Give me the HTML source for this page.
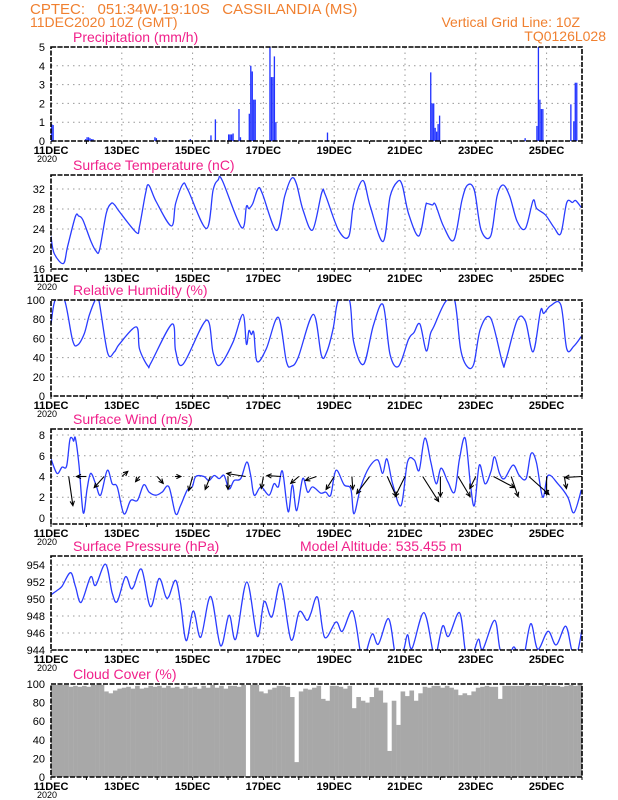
<!DOCTYPE html>
<html><head><meta charset="utf-8"><style>
body{margin:0;background:#fff;width:618px;height:800px;overflow:hidden}
svg{display:block;font-family:"Liberation Sans",sans-serif}
</style></head><body>
<svg id="chart" width="618" height="800" viewBox="0 0 618 800" xmlns="http://www.w3.org/2000/svg">
<text x="30" y="14" fill="#f08030" font-size="15" xml:space="preserve">CPTEC:   051:34W-19:10S   CASSILANDIA (MS)</text>
<text x="30" y="27" fill="#f08030" font-size="14">11DEC2020 10Z (GMT)</text>
<text x="580" y="27" text-anchor="end" fill="#f08030" font-size="14">Vertical Grid Line: 10Z</text>
<text x="606" y="41" text-anchor="end" fill="#f08030" font-size="14">TQ0126L028</text>
</svg>
<script>
const tempDays=[0,0.09,0.35,0.47,0.69,0.78,0.9,1.13,1.27,1.37,1.56,1.7,1.8,1.93,2.41,2.5,2.67,2.76,2.97,3.4,3.52,3.73,3.87,4.39,4.58,4.72,4.84,5.38,5.52,5.59,5.7,5.85,5.97,6.37,6.6,6.79,6.93,7.12,7.39,7.65,7.75,8.12,8.41,8.55,8.81,9.02,9.38,9.58,9.79,9.92,10.1,10.39,10.58,10.62,10.77,10.86,11.09,11.38,11.61,11.77,11.96,12.15,12.42,12.6,12.77,12.96,13.17,13.4,13.62,13.72,13.97,14.21,14.4,14.57,14.73,14.82,14.98];
const tempVals=[22.5,19.1,17.1,20.5,26.5,26.6,25.8,21.5,19.6,19.8,27.1,29.1,28.8,27.5,23.3,24.5,31.1,32.8,29.5,24.6,29.1,33,31.8,24.1,31.8,33.8,33.7,24.3,28.5,28.1,29.1,32.1,31.1,23.7,30.5,34.1,33.1,27.8,23.8,31.3,30.8,23.8,22.5,29.1,33.7,28.5,21.5,30.5,33.5,32.8,27.1,22.6,28.5,29.1,28.8,28.9,24.5,21.8,29.8,32.8,31.7,23.8,22.6,30.5,32.8,30.5,25.5,24.1,29.7,28.1,26.8,24.3,23.1,29.3,29.3,29.7,28.3];
const rhDays=[0,0.12,0.38,0.61,0.75,0.94,1.08,1.25,1.35,1.6,1.79,1.93,2.41,2.5,2.74,2.83,3.42,3.52,3.73,4.39,4.58,4.76,5.14,5.42,5.52,5.59,5.66,5.73,5.82,6.08,6.42,6.65,6.79,6.98,7.41,7.64,7.79,7.97,8.12,8.43,8.55,8.83,9.11,9.38,9.58,9.82,10.1,10.25,10.42,10.6,10.72,10.81,11.14,11.4,11.57,11.75,11.94,12.13,12.42,12.75,12.84,13.17,13.4,13.62,13.83,13.92,14.11,14.4,14.57,14.77,14.98];
const rhVals=[75,100,100,58,53,65,84,100,100,45,46,54,72,49,31,35,75,47,33,79,45,32,56,85,54,68,64,66,36,49,82,36,31,40,85,42,46,70,100,100,56,33,74,95,43,31,59,66,75,47,65,72,98,100,49,31,33,70,81,35,36,79,78,46,89,86,94,95,49,52,62];
const windDays=[0,0.17,0.31,0.44,0.53,0.6,0.64,0.69,0.79,0.91,1.02,1.12,1.26,1.4,1.59,1.73,1.87,2.06,2.25,2.44,2.62,2.77,2.96,3.14,3.33,3.52,3.66,3.85,3.99,4.09,4.32,4.46,4.61,4.75,4.89,5.03,5.17,5.36,5.53,5.64,5.74,5.93,6.16,6.3,6.42,6.54,6.7,6.82,6.94,7.11,7.25,7.39,7.62,7.76,7.9,8.05,8.28,8.47,8.56,8.75,8.99,9.23,9.37,9.49,9.65,9.89,10.07,10.26,10.4,10.56,10.73,10.88,11.02,11.21,11.4,11.54,11.7,11.85,11.96,12.1,12.26,12.43,12.53,12.67,12.81,13.05,13.23,13.42,13.56,13.71,13.89,14.04,14.32,14.6,14.77,14.98];
const windVals=[5.7,4.3,4.9,5.0,7.5,7.7,7.4,7.7,5.1,0.5,2.8,4.3,3.3,2.2,4.6,3.3,3.0,0.4,1.7,1.7,3.2,2.5,2.2,2.5,3.0,0.4,1.2,2.7,3.0,4.0,4.0,3.6,4.1,3.8,4.1,2.8,3.6,3.8,5.4,4.1,2.2,3.0,2.2,3.3,3.0,4.5,0.6,3.2,0.7,3.8,2.5,3.0,2.4,2.5,2.2,4.6,3.2,2.8,0.4,3.0,4.9,5.6,4.3,5.7,3.3,1.2,5.4,5.6,4.6,7.7,5.4,3.3,4.8,3.5,2.5,5.7,7.7,3.2,1.2,5.1,3.3,4.5,5.9,4.3,3.8,5.1,4.1,3.8,6.2,5.4,2.0,4.1,3.3,2.0,0.5,2.7];
const arrowDays=[0.5,1,1.5,2,2.5,3,3.5,4,4.5,5,5.5,6,6.5,7,7.5,8,8.5,9,9.5,10,10.5,11,11.5,12,12.5,13,13.5,14,14.5,15];
const arrowU=[1.4,-3.3,-3.3,2,-1.3,2,2,-1.3,-1.7,0,-6.3,-0.7,-4.7,-2.7,-3.7,-2.7,0.3,-4.3,3,-3.3,5.3,0,4,-2,7,2.3,6.7,0,0.7,-5.7];
const arrowV=[-9.7,0,-3.7,1.7,-1.7,-2.3,0,-4.7,-4.3,-4.3,1,-4,0.3,-2.3,-1.3,-4.3,-4.3,-5.7,-6.7,-6.7,-8.3,-6.7,-6.7,-4,-3.7,-6.7,-6,-6,-4,-0.3];
const presDays=[0,0.17,0.31,0.55,0.69,0.85,1.12,1.26,1.54,1.73,1.87,2.1,2.25,2.34,2.56,2.81,3.05,3.24,3.33,3.52,3.66,3.82,4.02,4.23,4.51,4.79,5.03,5.22,5.53,5.83,6.02,6.24,6.49,6.78,7.01,7.23,7.34,7.53,7.73,8.05,8.23,8.52,8.73,8.82,8.92,9.08,9.25,9.53,9.7,9.77,9.96,10.07,10.2,10.53,10.78,10.85,11.06,11.23,11.54,11.7,11.82,11.96,12.08,12.2,12.53,12.69,12.9,13.05,13.14,13.33,13.55,13.75,14.04,14.27,14.54,14.71,14.84,15.0];
const presVals=[950.5,951,951.5,953.1,951.5,949.6,952.6,951.6,954.1,950.7,949.7,952.6,951.3,951.5,953.5,949.1,952.4,950.3,950.3,952.2,949.5,945.1,948.6,945.5,950.3,944.5,948.1,945.3,952,945.6,949.7,947.9,951.8,945.2,948.5,947.5,948.3,950.2,945.5,947.3,946.2,948.6,944,942.8,944,945.9,944.7,947.7,944,942.8,944,945.8,944.2,948.4,944,942.8,946.8,945.6,948.4,944,942.8,944,945.3,944.1,947.5,944,942.8,944.3,944,942.8,947.1,944.1,946.2,944.6,946.8,944,943.2,946.4];
const precipHours=[0,1,23,24,25,26,27,28,70,71,80,94,108,111,120,121,122,123,124,127,128,134,135,136,137,138,148,149,150,151,152,187,257,258,259,260,261,262,263,321,329,330,331,332,333,352,354,355,356];
const precipVals=[0.9,0.85,0.1,0.2,0.2,0.15,0.1,0.1,0.2,0.15,0.05,0.1,0.3,1.15,0.35,0.35,0.35,0.4,0.05,1.7,0.2,1.45,4.0,3.7,2.2,2.2,5.0,3.4,3.4,4.5,1.0,0.45,3.65,2.0,2.0,0.7,0.5,0.9,1.35,0.15,0.8,5.0,2.2,1.7,1.7,1.95,1.05,3.1,3.1];
const cloudVals=[99,99,99,99,97,98,97,98,97,99,99,99,92,90,93,95,96,97,95,98,95,96,98,97,98,96,98,96,97,95,98,96,97,95,98,96,99,96,98,95,98,98,97,99,0,99,99,92,90,94,96,98,98,97,86,16,92,95,94,96,98,84,82,98,98,97,95,98,74,86,82,80,86,96,93,80,28,82,56,92,87,93,82,90,97,96,98,98,96,98,96,94,88,90,88,92,96,97,98,97,97,84,98,98,98,98,98,99,98,98,98,99,98,98,98,97,98,99,98,99];
const dateLabels=["11DEC","13DEC","15DEC","17DEC","19DEC","21DEC","23DEC","25DEC"];

const NS="http://www.w3.org/2000/svg";
const svg=document.getElementById('chart');
const X0=51,X1=582,NDAYS=15;
function xs(d){return X0+d*(X1-X0)/NDAYS;}
function mk(tag,attrs,parent){const e=document.createElementNS(NS,tag);for(const k in attrs)e.setAttribute(k,attrs[k]);(parent||svg).appendChild(e);return e;}

const panels={
 precip:{top:47,bottom:141,min:0,max:5,ticks:[0,1,2,3,4,5],title:"Precipitation (mm/h)"},
 temp:{top:175,bottom:269,min:16,max:34.8,ticks:[16,20,24,28,32],title:"Surface Temperature (nC)"},
 rh:{top:300,bottom:396,min:0,max:100,ticks:[0,20,40,60,80,100],title:"Relative Humidity (%)"},
 wind:{top:429,bottom:524,min:-0.58,max:8.58,ticks:[0,2,4,6,8],title:"Surface Wind (m/s)"},
 pres:{top:556,bottom:650,min:944,max:955.06,ticks:[944,946,948,950,952,954],title:"Surface Pressure (hPa)"},
 cloud:{top:684,bottom:777,min:0,max:100,ticks:[0,20,40,60,80,100],title:"Cloud Cover (%)"}
};
function ys(p,v){return p.bottom-(v-p.min)/(p.max-p.min)*(p.bottom-p.top);}

function frame(key){
 const p=panels[key];
 const g=mk('g',{});
 
 
 const cp=mk('clipPath',{id:'clip-'+key},g);
 mk('rect',{x:X0,y:p.top,width:X1-X0,height:p.bottom-p.top},cp);
 const t=mk('text',{x:73,y:p.top-5,fill:'#f0208a','font-size':'14'},g);
 
 
 t.textContent=p.title;
 p.g=g;
 return p;
}
function grid(p,key){
 p.ticks.forEach(v=>{
  const y=ys(p,v);
  const l=mk('line',{x1:X0,x2:X1,y1:y,y2:y,stroke:'#999','stroke-dasharray':'1.5 4','stroke-width':'1'},p.g);
  
  
  const tx=mk('text',{x:X0-6,y:y+4,'text-anchor':'end','font-size':'11',fill:'#000'},p.g);
  
  
  tx.textContent=v;
 });
 for(let d=2;d<NDAYS;d+=2){
  const l=mk('line',{x1:xs(d),x2:xs(d),y1:p.top,y2:p.bottom,stroke:'#999','stroke-dasharray':'1.5 4','stroke-width':'1'},p.g);
  
  
 }
}
function axes(p,key){
 const r=mk('rect',{x:X0,y:p.top,width:X1-X0,height:p.bottom-p.top,fill:'none',stroke:'#000','stroke-width':'1.6','stroke-dasharray':'5 1.5'},p.g);
 
 
 for(let d=0;d<=NDAYS;d++){
  const l=mk('line',{x1:xs(d),x2:xs(d),y1:p.bottom,y2:p.bottom+3,stroke:'#000'},p.g);
  
  
 }
 dateLabels.forEach((s,i)=>{
  const tx=mk('text',{x:xs(i*2),y:p.bottom+13,'text-anchor':'middle','font-size':'11','font-weight':'bold',fill:'#000'},p.g);
  
  
  tx.textContent=s;
 });
 const yr=mk('text',{x:xs(0)-4,y:p.bottom+21,'text-anchor':'middle','font-size':'9',fill:'#000'},p.g);
 
 
 yr.textContent='2020';
}
function line(p,key,days,vals){
 const P=days.map((d,i)=>[xs(d),ys(p,vals[i])]);
 let dstr='M'+P[0][0].toFixed(1)+','+P[0][1].toFixed(1);
 for(let i=0;i<P.length-1;i++){
  const p0=P[Math.max(0,i-1)],p1=P[i],p2=P[i+1],p3=P[Math.min(P.length-1,i+2)];
  const c1x=p1[0]+(p2[0]-p0[0])/6,c1y=p1[1]+(p2[1]-p0[1])/6;
  const c2x=p2[0]-(p3[0]-p1[0])/6,c2y=p2[1]-(p3[1]-p1[1])/6;
  dstr+=' C'+c1x.toFixed(1)+','+c1y.toFixed(1)+' '+c2x.toFixed(1)+','+c2y.toFixed(1)+' '+p2[0].toFixed(1)+','+p2[1].toFixed(1);
 }
 const pl=mk('path',{d:dstr,fill:'none',stroke:'#2a3cff','stroke-width':'1.3','clip-path':'url(#clip-'+key+')'},p.g);
 
 
}

(function(){
 const p=frame('precip');grid(p,'precip');
 const w=(X1-X0)/NDAYS/24;
 precipHours.forEach((h,i)=>{
  const y=ys(p,Math.min(precipVals[i],p.max));
  const b=mk('rect',{x:xs(h/24),y:y,width:w*0.9,height:p.bottom-y,fill:'#2233ff'},p.g);
  
  
 });
 axes(p,'precip');
})();
(function(){const p=frame('temp');grid(p,'temp');line(p,'temp',tempDays,tempVals);axes(p,'temp');})();
(function(){const p=frame('rh');grid(p,'rh');line(p,'rh',rhDays,rhVals);axes(p,'rh');})();
(function(){
 const p=frame('wind');grid(p,'wind');line(p,'wind',windDays,windVals);
 const S=3,ty=ys(p,4);
 arrowDays.forEach((d,i)=>{
  const x1=xs(d),y1=ty,x2=x1+arrowU[i]*S,y2=y1-arrowV[i]*S;
  const a=Math.atan2(y2-y1,x2-x1),h=5;
  const g=mk('g',{stroke:'#000','stroke-width':'1.1',fill:'none'},p.g);
  
  
  mk('line',{x1:x1,y1:y1,x2:x2,y2:y2},g);
  mk('polyline',{points:(x2-h*Math.cos(a-0.45))+','+(y2-h*Math.sin(a-0.45))+' '+x2+','+y2+' '+(x2-h*Math.cos(a+0.45))+','+(y2-h*Math.sin(a+0.45))},g);
 });
 axes(p,'wind');
})();
(function(){
 const p=frame('pres');grid(p,'pres');line(p,'pres',presDays,presVals);axes(p,'pres');
 const t=mk('text',{x:300,y:p.top-5,fill:'#f0208a','font-size':'14'},p.g);
 
 
 t.textContent='Model Altitude: 535.455 m';
})();
(function(){
 const p=frame('cloud');
 const w=(X1-X0)/NDAYS/8;
 cloudVals.forEach((v,i)=>{
  const y=ys(p,v);
  const b=mk('rect',{x:xs(i/8),y:y,width:w+0.2,height:p.bottom-y,fill:'#a8a8a8'},p.g);
  
  
 });
 p.ticks.forEach(v=>{
  const tx=mk('text',{x:X0-6,y:ys(p,v)+4,'text-anchor':'end','font-size':'11',fill:'#000'},p.g);
  
  
  tx.textContent=v;
 });
 axes(p,'cloud');
})();
</script>
</body></html>
